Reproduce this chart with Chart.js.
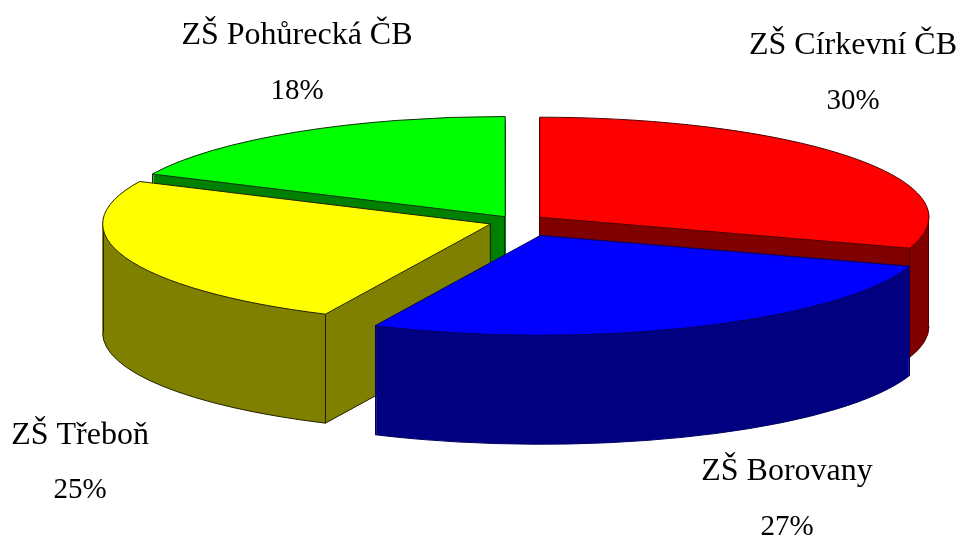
<!DOCTYPE html>
<html>
<head>
<meta charset="utf-8">
<style>html,body{margin:0;padding:0;background:#fff}canvas{display:block}</style>
<script src="https://cdn.jsdelivr.net/npm/chart.js@4"></script>
</head>
<body>
<canvas id="c" width="962" height="539"></canvas>
<script>
const categories = ['ZŠ Církevní ČB', 'ZŠ Borovany', 'ZŠ Třeboň', 'ZŠ Pohůrecká ČB'];
const values = [30, 27, 25, 18];
const topColors = ['#ff0000', '#0000ff', '#ffff00', '#00ff00'];
const sideColors = ['#800000', '#000080', '#808000', '#008000'];
const edgeColors = ['#500000', '#000060', '#222200', '#0a300a'];
const slicePull = [112, 236, 112, 88];
const paintOrder = [3, 0, 2, 1];
const labelAnchors = [[853, 54, 109], [787, 480, 535], [80, 444, 498], [297, 44, 99]];

const centerY = 221.5, squash = 0.257, depth = 109;

const pie3d = {
  id: 'pie3d',
  beforeDatasetDraw(chart) {
    const ctx = chart.ctx;
    const arcs = chart.getDatasetMeta(0).data;
    ctx.save();
    paintOrder.forEach(i => {
      const a = arcs[i];
      const s = a.startAngle, e = a.endAngle, h = (s + e) / 2;
      const off = (a.options.offset || 0) / 4;
      const r = a.outerRadius + off * (1 - Math.sin(Math.min(Math.PI, a.circumference)));
      const ax = a.x + Math.cos(h) * off;
      const ay = centerY + Math.sin(h) * off * squash;
      const pt = (ang, d) => [ax + Math.cos(ang) * r, ay + Math.sin(ang) * r * squash + d];
      const wedge = d => {
        ctx.beginPath();
        ctx.moveTo(ax, ay + d);
        ctx.ellipse(ax, ay + d, r, r * squash, 0, s, e);
        ctx.closePath();
      };
      const seg = (p, q) => {
        const vertical = p[0] === q[0];
        const px = vertical ? Math.round(p[0]) + (p[0] < ax ? 0.5 : -0.5) : p[0];
        const qx = vertical ? px : q[0];
        ctx.beginPath(); ctx.moveTo(px, p[1]); ctx.lineTo(qx, q[1]); ctx.stroke();
      };
      // extruded body
      ctx.fillStyle = sideColors[i];
      for (let d = depth; d >= 1; d--) { wedge(d); ctx.fill(); }
      // visible lower edges
      ctx.strokeStyle = edgeColors[i];
      ctx.lineWidth = 1;
      const f0 = Math.max(s, 0), f1 = Math.min(e, Math.PI);
      if (f1 > f0) {
        ctx.beginPath();
        ctx.ellipse(ax, ay + depth, r, r * squash, 0, f0, f1);
        ctx.stroke();
        seg(pt(f0, 0), pt(f0, depth));
        seg(pt(f1, 0), pt(f1, depth));
      }
      if (Math.cos(s) < -1e-6) {
        seg(pt(s, depth), [ax, ay + depth]);
        seg(pt(s, 0), pt(s, depth));
        seg([ax, ay], [ax, ay + depth]);
      }
      if (Math.cos(e) > 1e-6) {
        seg(pt(e, depth), [ax, ay + depth]);
        seg(pt(e, 0), pt(e, depth));
        seg([ax, ay], [ax, ay + depth]);
      }
      // top face, drawn by the library's own arc element under a flattening transform
      ctx.save();
      ctx.translate(0, centerY);
      ctx.scale(1, squash);
      ctx.translate(0, -a.y);
      a.draw(ctx);
      ctx.restore();
      wedge(0);
      ctx.stroke();
    });
    ctx.restore();
    return false;
  },
  afterDraw(chart) {
    const ctx = chart.ctx;
    const total = values.reduce((p, v) => p + v, 0);
    ctx.save();
    ctx.fillStyle = '#000';
    ctx.textAlign = 'center';
    ctx.textBaseline = 'alphabetic';
    categories.forEach((name, i) => {
      const [x, y1, y2] = labelAnchors[i];
      ctx.font = '32px "Liberation Serif"';
      ctx.fillText(name, x, y1);
      ctx.font = '29px "Liberation Serif"';
      ctx.fillText(Math.round(values[i] / total * 100) + '%', x, y2);
    });
    ctx.restore();
  }
};

new Chart(document.getElementById('c'), {
  type: 'pie',
  data: {
    labels: categories,
    datasets: [{
      data: values,
      backgroundColor: topColors,
      offset: slicePull,
      borderWidth: 0,
      clip: false
    }]
  },
  options: {
    responsive: false,
    animation: false,
    events: [],
    radius: 388,
    layout: { padding: { left: 72 } },
    plugins: { legend: { display: false }, tooltip: { enabled: false } }
  },
  plugins: [pie3d]
});
</script>
</body>
</html>
